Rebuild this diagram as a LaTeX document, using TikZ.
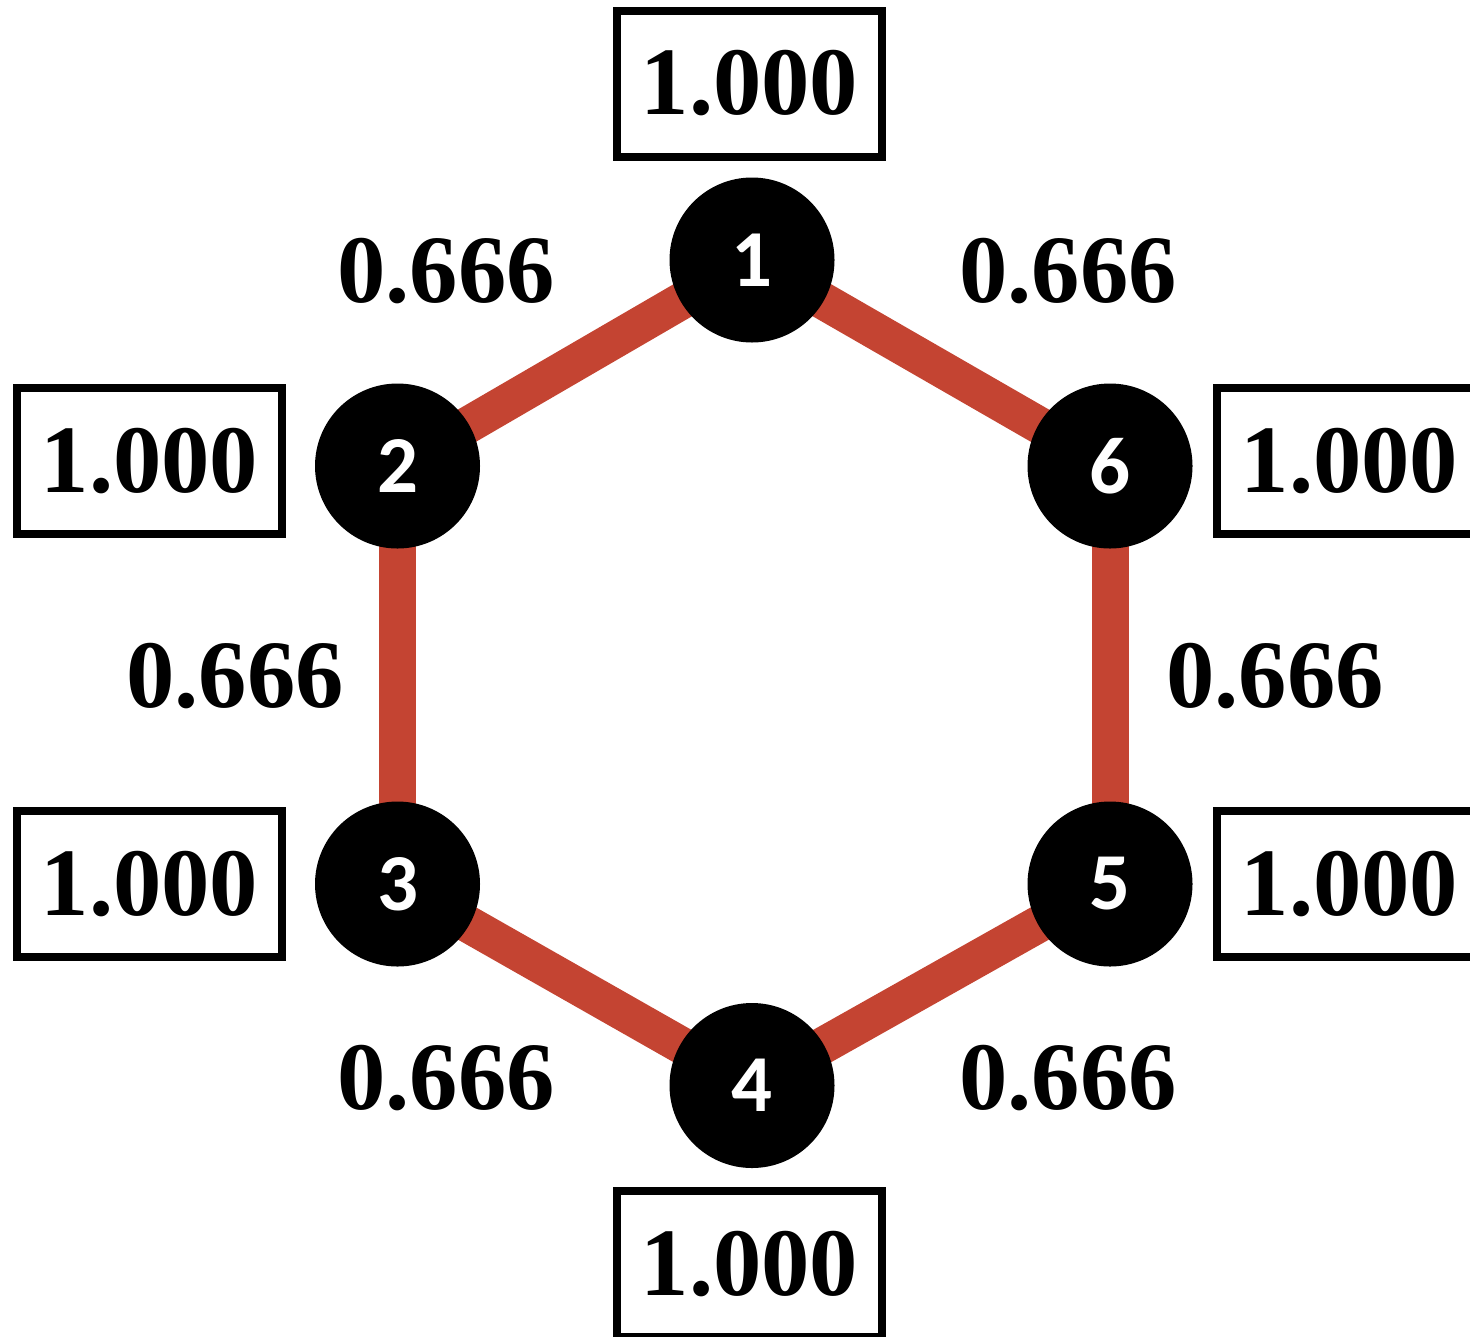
\documentclass[tikz,border=0pt]{standalone}
\usepackage{fontspec}
\setmainfont{Liberation Serif}
\newfontfamily\vertfont{Carlito}
\usepackage{tikz}
\usetikzlibrary{backgrounds}
\definecolor{edgered}{RGB}{196,68,50}

\begin{document}
\begin{tikzpicture}[x=1cm,y=-1cm,
    vert/.style={circle,fill=black,minimum size=1.65cm,inner sep=0pt,
      text=white,font=\vertfont\bfseries\fontsize{23}{25}\selectfont},
    valbox/.style={draw,line width=0.08cm,minimum width=2.65cm,minimum height=1.46cm,
      inner sep=0pt,font=\bfseries\fontsize{27.5}{30}\selectfont},
    wlab/.style={inner sep=0pt,font=\bfseries\fontsize{27.5}{30}\selectfont},
    edge/.style={edgered,line width=0.37cm}]
  \useasboundingbox (0,0) rectangle (14.7,13.36);
  % vertices
  \node[vert] (v1) at (7.52,2.60) {1};
  \node[vert] (v2) at (3.975,4.66) {2};
  \node[vert] (v3) at (3.975,8.84) {3};
  \node[vert] (v4) at (7.52,10.855) {4};
  \node[vert] (v5) at (11.10,8.84) {5};
  \node[vert] (v6) at (11.10,4.66) {6};
  % ring
  \begin{scope}[on background layer]
    \foreach \a/\b in {1/2,2/3,3/4,4/5,5/6,6/1}
      \draw[edge] (v\a.center) -- (v\b.center);
  \end{scope}
  % vertex values
  \node[valbox] (b1) at (7.495,0.835) {1.000};
  \node[valbox] (b2) at (1.495,4.61) {1.000};
  \node[valbox] (b3) at (1.495,8.84) {1.000};
  \node[valbox] (b4) at (7.495,12.64) {1.000};
  \node[valbox] (b5) at (13.495,8.84) {1.000};
  \node[valbox] (b6) at (13.495,4.61) {1.000};
  % edge weights
  \node[wlab] (w12) at (4.46,2.71) {0.666};
  \node[wlab] (w61) at (10.68,2.71) {0.666};
  \node[wlab] (w23) at (2.35,6.76) {0.666};
  \node[wlab] (w56) at (12.75,6.76) {0.666};
  \node[wlab] (w34) at (4.46,10.78) {0.666};
  \node[wlab] (w45) at (10.68,10.78) {0.666};
\end{tikzpicture}
\end{document}
